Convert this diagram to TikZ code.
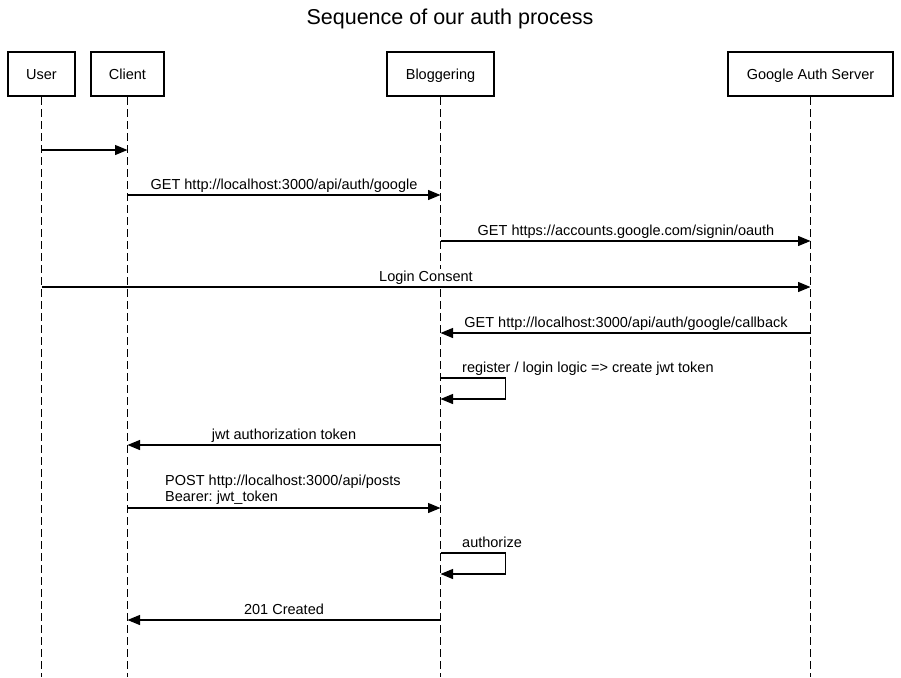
\documentclass[tikz,border=0pt]{standalone}
\usepackage{fontspec}
\setmainfont{Liberation Sans}
\usetikzlibrary{arrows.meta}
\frenchspacing
\begin{document}
\begin{tikzpicture}[x=1pt,y=-1pt,
  actor/.style={draw,line width=2pt,minimum height=44pt,inner sep=0pt,text height=14pt,text depth=3pt,font=\fontsize{14.5}{17}\selectfont},
  life/.style={line width=1.1pt,dash pattern=on 8pt off 4pt},
  msg/.style={line width=1.2pt,-{Triangle[length=12.5pt,width=10pt]}},
  lbl/.style={inner sep=1pt,fill=white,font=\fontsize{14.5}{17}\selectfont}]
\useasboundingbox (0,0) rectangle (901,677);
\node[anchor=base,inner sep=0pt,font=\fontsize{21.5}{25}\selectfont] (title) at (450,25) {Sequence of our auth process};
\node[actor,minimum width=67pt] (user) at (41.5,74) {User};
\node[actor,minimum width=73pt] (client) at (127.5,74) {Client};
\node[actor,minimum width=107pt] (blog) at (440.5,74) {Bloggering};
\node[actor,minimum width=165pt] (google) at (810.5,74) {Google Auth Server};
% lifeline ends
\coordinate (ue) at (user.south |- 0,677);
\coordinate (ce) at (client.south |- 0,677);
\coordinate (be) at (blog.south |- 0,677);
\coordinate (ge) at (google.south |- 0,677);
\draw[life] (user.south) -- (ue);
\draw[life] (client.south) -- (ce);
\draw[life] (blog.south) -- (be);
\draw[life] (google.south) -- (ge);
% message points
\coordinate (m1a) at (user.south |- 0,150);
\coordinate (m1b) at (client.south |- 0,150);
\coordinate (m2a) at (client.south |- 0,195);
\coordinate (m2b) at (blog.south |- 0,195);
\coordinate (m3a) at (blog.south |- 0,241);
\coordinate (m3b) at (google.south |- 0,241);
\coordinate (m4a) at (user.south |- 0,287);
\coordinate (m4b) at (google.south |- 0,287);
\coordinate (m5a) at (google.south |- 0,333);
\coordinate (m5b) at (blog.south |- 0,333);
\coordinate (m6a) at (blog.south |- 0,378);
\coordinate (m6b) at (blog.south |- 0,399);
\coordinate (m7a) at (blog.south |- 0,445);
\coordinate (m7b) at (client.south |- 0,445);
\coordinate (m8a) at (client.south |- 0,508);
\coordinate (m8b) at (blog.south |- 0,508);
\coordinate (m9a) at (blog.south |- 0,553);
\coordinate (m9b) at (blog.south |- 0,574);
\coordinate (m10a) at (blog.south |- 0,620);
\coordinate (m10b) at (client.south |- 0,620);
% messages
\draw[msg] (m1a) -- (m1b);
\draw[msg] (m2a) -- (m2b);
\node[lbl,anchor=base] (l2) at (284,189) {GET http://localhost:3000/api/auth/google};
\draw[msg] (m3a) -- (m3b);
\node[lbl,anchor=base] (l3) at (626,235) {GET https://accounts.google.com/signin/oauth};
\draw[msg] (m4a) -- (m4b);
\node[lbl,anchor=base] (l4) at (426,281) {Login Consent};
\draw[msg] (m5a) -- (m5b);
\node[lbl,anchor=base] (l5) at (626,327) {GET http://localhost:3000/api/auth/google/callback};
\draw[msg] (m6a) -- ++(65,0) |- (m6b);
\node[lbl,anchor=base west,inner sep=0pt] (l6) at (462,372) {register / login logic => create jwt token};
\draw[msg] (m7a) -- (m7b);
\node[lbl,anchor=base] (l7) at (284,439) {jwt authorization token};
\draw[msg] (m8a) -- (m8b);
\node[lbl,anchor=base west,inner sep=0pt] (l8a) at (165,485) {POST http://localhost:3000/api/posts};
\node[lbl,anchor=base west,inner sep=0pt] (l8b) at (165,501) {Bearer: jwt\_token};
\draw[msg] (m9a) -- ++(65,0) |- (m9b);
\node[lbl,anchor=base west,inner sep=0pt] (l9) at (462,547) {authorize};
\draw[msg] (m10a) -- (m10b);
\node[lbl,anchor=base] (l10) at (284,614) {201 Created};
\end{tikzpicture}
\end{document}
